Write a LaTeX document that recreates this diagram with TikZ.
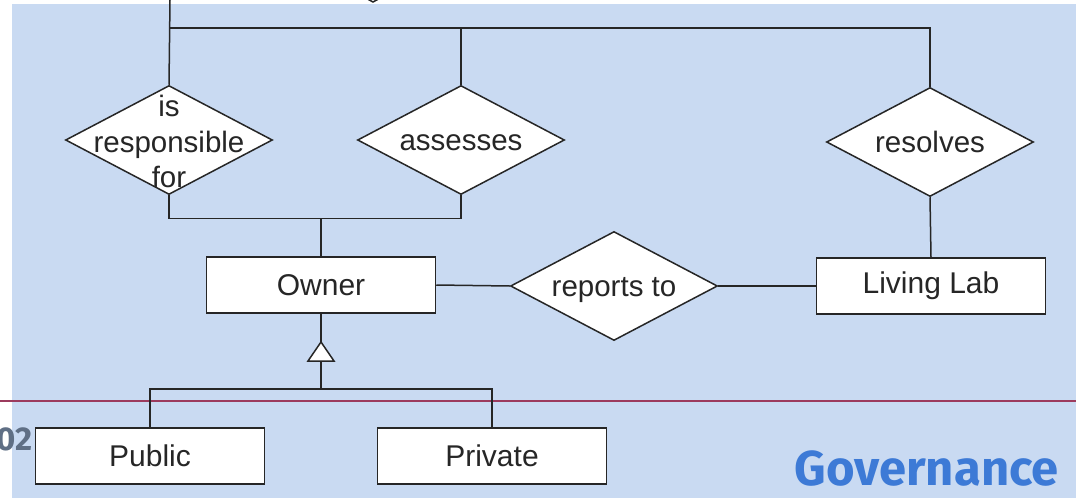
\documentclass[tikz,border=0pt]{standalone}
\usepackage{fontspec}
\setmainfont{Liberation Sans}
\newfontfamily\titlefont{Fira Sans}
\usetikzlibrary{shapes.geometric}
\definecolor{slidebg}{HTML}{C9DAF2}
\definecolor{ink}{HTML}{262626}
\definecolor{rulecol}{HTML}{9C3B5E}
\definecolor{titleblue}{HTML}{3D7AD6}
\definecolor{pagenum}{HTML}{5F6F85}
\tikzset{
  conn/.style={draw=ink, line width=1.5pt},
  ent/.style={draw=ink, line width=1.5pt, fill=white, rectangle,
    minimum width=229pt, minimum height=56pt, inner sep=0pt,
    text=ink, font=\fontsize{30}{35}\selectfont},
  rel/.style={draw=ink, line width=1.5pt, fill=white, diamond,
    minimum width=207pt, minimum height=109pt, inner sep=0pt},
  reltext/.style={text=ink, font=\fontsize{29.5}{35}\selectfont, inner sep=0pt, anchor=base}
}
\begin{document}
\begin{tikzpicture}[x=1pt,y=-1pt]
  % page and slide background
  \useasboundingbox (0,0) rectangle (1076,498);
  \fill[white] (0,0) rectangle (1076,498);
  \fill[slidebg] (12,4) rectangle (1076,498);

  % tip of a shape cut off by the top edge
  \begin{scope}
    \clip (0,0) rectangle (1076,498);
    \draw[conn, fill=white] (362,-4) -- (373,2) -- (384,-4);
  \end{scope}

  % footer rule, page number and section title
  \draw[rulecol, line width=1.4pt] (0,401) -- (1076,401);
  \begin{scope}
    \clip (0,0) rectangle (1076,498);
    \node[anchor=base east, text=pagenum, inner sep=0pt,
      font=\titlefont\bfseries\fontsize{33}{36}\selectfont] (pg) at (33,450) {02};
  \end{scope}
  \node[anchor=base east, text=titleblue, inner sep=0pt,
    font=\titlefont\bfseries\fontsize{49}{54}\selectfont] (title) at (1059,485) {Governance};

  % relationships
  \node[rel] (resp) at (169,140) {};
  \node[reltext] (resp1) at ([yshift=24pt]resp.center) {is};
  \node[reltext] (resp2) at ([yshift=-12pt]resp.center) {responsible};
  \node[reltext] (resp3) at ([yshift=-47pt]resp.center) {for};
  \node[rel] (asse) at (461,140) {};
  \node[reltext] (asset) at ([yshift=-10pt]asse.center) {assesses};
  \node[rel] (reso) at (930,142) {};
  \node[reltext] (resot) at ([yshift=-10pt]reso.center) {resolves};
  \node[rel] (rep) at (614,286) {};
  \node[reltext] (rept) at ([yshift=-10pt]rep.center) {reports to};

  % entities
  \node[ent] (owner) at (321,285) {Owner};
  \node[ent] (lab) at (931,286) {Living Lab};
  \node[ent] (pub) at (150,456) {Public};
  \node[ent] (priv) at (492,456) {Private};

  % upper bus
  \coordinate (top) at (170,0);
  \coordinate (bus) at (170,28);
  \draw[conn] (top) -- (resp.north);
  \draw[conn] (bus) -| (reso.north);
  \draw[conn] (asse.north) -- (asse.north |- bus);

  % owner links
  \coordinate (join) at (321,218);
  \draw[conn] (resp.south) -- ++(0,23) -| (asse.south);
  \draw[conn] (join) -- (owner.north);
  \draw[conn] (owner.east) -- (rep.west);
  \draw[conn] (rep.east) -- (lab.west);
  \draw[conn] (reso.south) -- (lab.north);

  % specialisation
  \coordinate (isa) at (321,342);
  \coordinate (isab) at (321,361);
  \coordinate (split) at (321,389);
  \draw[conn] (owner.south) -- (isa);
  \draw[conn] (isab) -- (split);
  \draw[conn] (pub.north) |- (split) -| (priv.north);
  \draw[conn, fill=white, line join=miter] (isa) -- ++(13,19) -- ++(-26,0) -- cycle;
\end{tikzpicture}
\end{document}
